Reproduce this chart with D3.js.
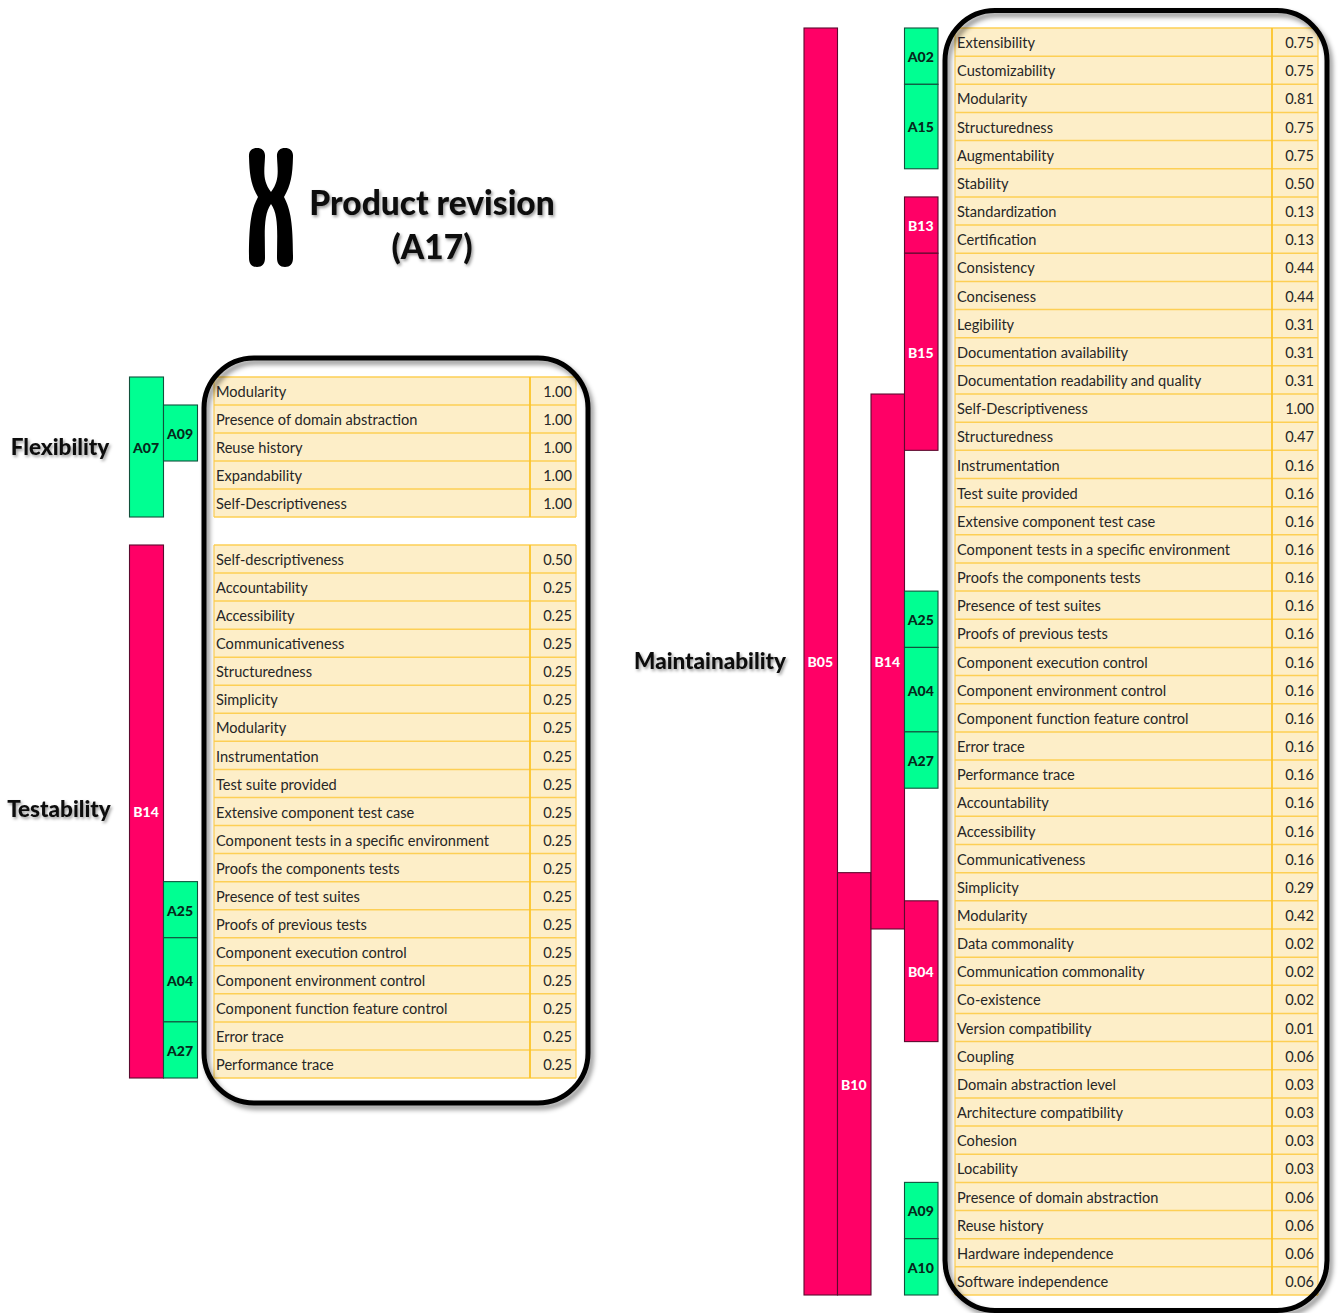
<!DOCTYPE html>
<html>
<head>
<meta charset="utf-8">
<title>Product revision (A17)</title>
<script src="https://cdn.jsdelivr.net/npm/d3@7"></script>
<style>
  html, body {margin: 0; padding: 0; background: #fff;}
  svg {display: block;}
  text {font-family: Lato, "Open Sans", sans-serif;}
  .row-label {font-size: 14.6px; fill: #262626;}
  .row-value {font-size: 14.6px; fill: #262626; text-anchor: end;}
  .bar-label {font-size: 14px; font-weight: 900; text-anchor: middle;}
  .heading {font-weight: 900; fill: #111;}
</style>
</head>
<body>
<script>
const flexLabels = ['Modularity', 'Presence of domain abstraction', 'Reuse history', 'Expandability', 'Self-Descriptiveness']
const flexValues = [1, 1, 1, 1, 1]

const testLabels = ['Self-descriptiveness', 'Accountability', 'Accessibility', 'Communicativeness', 'Structuredness',
  'Simplicity', 'Modularity', 'Instrumentation', 'Test suite provided', 'Extensive component test case',
  'Component tests in a specific environment', 'Proofs the components tests', 'Presence of test suites',
  'Proofs of previous tests', 'Component execution control', 'Component environment control',
  'Component function feature control', 'Error trace', 'Performance trace']
const testValues = [0.5, 0.25, 0.25, 0.25, 0.25, 0.25, 0.25, 0.25, 0.25, 0.25, 0.25, 0.25, 0.25, 0.25, 0.25, 0.25, 0.25, 0.25, 0.25]

const mainLabels = ['Extensibility', 'Customizability', 'Modularity', 'Structuredness', 'Augmentability', 'Stability',
  'Standardization', 'Certification', 'Consistency', 'Conciseness', 'Legibility', 'Documentation availability',
  'Documentation readability and quality', 'Self-Descriptiveness', 'Structuredness', 'Instrumentation',
  'Test suite provided', 'Extensive component test case', 'Component tests in a specific environment',
  'Proofs the components tests', 'Presence of test suites', 'Proofs of previous tests', 'Component execution control',
  'Component environment control', 'Component function feature control', 'Error trace', 'Performance trace',
  'Accountability', 'Accessibility', 'Communicativeness', 'Simplicity', 'Modularity', 'Data commonality',
  'Communication commonality', 'Co-existence', 'Version compatibility', 'Coupling', 'Domain abstraction level',
  'Architecture compatibility', 'Cohesion', 'Locability', 'Presence of domain abstraction', 'Reuse history',
  'Hardware independence', 'Software independence']
const mainValues = [0.75, 0.75, 0.81, 0.75, 0.75, 0.5, 0.13, 0.13, 0.44, 0.44, 0.31, 0.31, 0.31, 1, 0.47,
  0.16, 0.16, 0.16, 0.16, 0.16, 0.16, 0.16, 0.16, 0.16, 0.16, 0.16, 0.16, 0.16, 0.16, 0.16,
  0.29, 0.42, 0.02, 0.02, 0.02, 0.01, 0.06, 0.03, 0.03, 0.03, 0.03, 0.06, 0.06, 0.06, 0.06]

// factor spans: [name, column, first row, last row]
const flexSpans = [['A07', 0, 0, 4], ['A09', 1, 1, 2]]
const testSpans = [['B14', 0, 0, 18], ['A25', 1, 12, 13], ['A04', 1, 14, 16], ['A27', 1, 17, 18]]
const mainSpans = [['B05', 0, 0, 44], ['B10', 1, 30, 44], ['B14', 2, 13, 31],
  ['A02', 3, 0, 1], ['A15', 3, 2, 4], ['B13', 3, 6, 7], ['B15', 3, 8, 14], ['A25', 3, 20, 21],
  ['A04', 3, 22, 24], ['A27', 3, 25, 26], ['B04', 3, 31, 35], ['A09', 3, 41, 42], ['A10', 3, 43, 44]]

const svg = d3.select('body').append('svg').attr('width', 1339).attr('height', 1313)

const defs = svg.append('defs')
const frameShadow = defs.append('filter').attr('id', 'frameShadow')
  .attr('x', '-5%').attr('y', '-5%').attr('width', '110%').attr('height', '110%')
frameShadow.append('feDropShadow').attr('dx', 3).attr('dy', 4).attr('stdDeviation', 2.5)
  .attr('flood-color', '#000').attr('flood-opacity', 0.45)
const textShadow = defs.append('filter').attr('id', 'textShadow')
  .attr('x', '-10%').attr('y', '-20%').attr('width', '120%').attr('height', '150%')
textShadow.append('feDropShadow').attr('dx', 1.5).attr('dy', 2).attr('stdDeviation', 1.5)
  .attr('flood-color', '#000').attr('flood-opacity', 0.4)

// draws one block of rows and returns its y scale
function drawTable(labels, values, top, bottom, x0, xDiv, x1) {
  const y = d3.scaleBand().domain(d3.range(labels.length)).range([top, bottom])
  const g = svg.append('g')
  g.append('rect').attr('x', x0).attr('y', top).attr('width', x1 - x0).attr('height', bottom - top)
    .attr('fill', '#fdeec8')
  g.selectAll('.row-line').data(d3.range(labels.length + 1)).enter().append('line')
    .attr('class', 'row-line')
    .attr('x1', x0).attr('x2', x1)
    .attr('y1', i => i < labels.length ? y(i) : bottom)
    .attr('y2', i => i < labels.length ? y(i) : bottom)
    .attr('stroke', '#fdcf55').attr('stroke-width', 1.5)
  g.selectAll('.edge').data([x0, x1]).enter().append('line')
    .attr('x1', d => d).attr('x2', d => d).attr('y1', top).attr('y2', bottom)
    .attr('stroke', '#fdcf55').attr('stroke-width', 1.2)
  g.append('line').attr('x1', xDiv).attr('x2', xDiv).attr('y1', top).attr('y2', bottom)
    .attr('stroke', '#fcc42a').attr('stroke-width', 1.8)
  g.selectAll('.row-label').data(labels).enter().append('text')
    .attr('class', 'row-label')
    .attr('x', x0 + 2)
    .attr('y', (d, i) => y(i) + y.bandwidth() / 2 + 1)
    .attr('dy', '0.35em')
    .text(d => d)
  g.selectAll('.row-value').data(values).enter().append('text')
    .attr('class', 'row-value')
    .attr('x', x1 - 4)
    .attr('y', (d, i) => y(i) + y.bandwidth() / 2 + 1)
    .attr('dy', '0.35em')
    .text(d => d.toFixed(2))
  return y
}

// draws the stacked factor bars next to a block
function drawSpans(spans, y, x) {
  const g = svg.append('g')
  const isA = d => d[0][0] === 'A'
  g.selectAll('rect').data(spans).enter().append('rect')
    .attr('x', d => x(d[1]))
    .attr('y', d => y(d[2]))
    .attr('width', x.bandwidth())
    .attr('height', d => y(d[3]) + y.bandwidth() - y(d[2]))
    .attr('fill', d => isA(d) ? '#00ff92' : '#ff0066')
    .attr('stroke', d => isA(d) ? '#11513c' : '#5c0a2e')
    .attr('stroke-width', 1.1)
  g.selectAll('text').data(spans).enter().append('text')
    .attr('class', 'bar-label')
    .attr('x', d => x(d[1]) + x.bandwidth() / 2 - 0.5)
    .attr('y', d => (y(d[2]) + y(d[3]) + y.bandwidth()) / 2 + 1)
    .attr('dy', '0.35em')
    .attr('fill', d => isA(d) ? '#06281c' : '#fff')
    .text(d => d[0])
}

const leftX = d3.scaleBand().domain([0, 1]).range([129.5, 197.5])
const rightX = d3.scaleBand().domain([0, 1, 2, 3]).range([804, 938])

const flexY = drawTable(flexLabels, flexValues, 377, 517, 214, 530, 576)
const testY = drawTable(testLabels, testValues, 545, 1078, 214, 530, 576)
const mainY = drawTable(mainLabels, mainValues, 28, 1295, 955, 1272, 1318)

drawSpans(flexSpans, flexY, leftX)
drawSpans(testSpans, testY, leftX)
drawSpans(mainSpans, mainY, rightX)

// rounded frames over the tables
const frames = [
  {x: 204, y: 358, w: 384, h: 745},
  {x: 945, y: 10.5, w: 382, h: 1300}
]
svg.append('g').selectAll('rect').data(frames).enter().append('rect')
  .attr('x', d => d.x).attr('y', d => d.y)
  .attr('width', d => d.w).attr('height', d => d.h)
  .attr('rx', 50).attr('ry', 50)
  .attr('fill', 'none').attr('stroke', '#000').attr('stroke-width', 5)
  .attr('filter', 'url(#frameShadow)')

// headings
const headings = [
  {t: 'Product revision', x: 432, y: 215, size: 33.5},
  {t: '(A17)', x: 432, y: 259, size: 33.5},
  {t: 'Flexibility', x: 60, y: 455, size: 22.5},
  {t: 'Testability', x: 59, y: 817, size: 22.5},
  {t: 'Maintainability', x: 710, y: 669, size: 22.5}
]
svg.append('g').attr('filter', 'url(#textShadow)')
  .selectAll('text').data(headings).enter().append('text')
  .attr('class', 'heading')
  .attr('text-anchor', 'middle')
  .attr('x', d => d.x).attr('y', d => d.y)
  .attr('font-size', d => d.size)
  .text(d => d.t)

// chromosome icon
svg.append('path')
  .attr('d', 'M257 148 C262 148 265.5 151 265 157 C264.5 170 262 180 271 192 C280 180 277.5 170 277 157 C276.5 151 280 148 285 148 C290 148 293.5 151 293 157 C292.5 175 291 185 284 197 C291 210 293 225 293 258 C293 264 290 267 285 267 C280 267 277 264 277 258 C277 235 279 215 271 204 C263 215 265 235 265 258 C265 264 262 267 257 267 C252 267 249 264 249 258 C249 225 251 210 258 197 C251 185 249.5 175 249 157 C248.5 151 252 148 257 148 Z')
  .attr('fill', '#000')
</script>
</body>
</html>
